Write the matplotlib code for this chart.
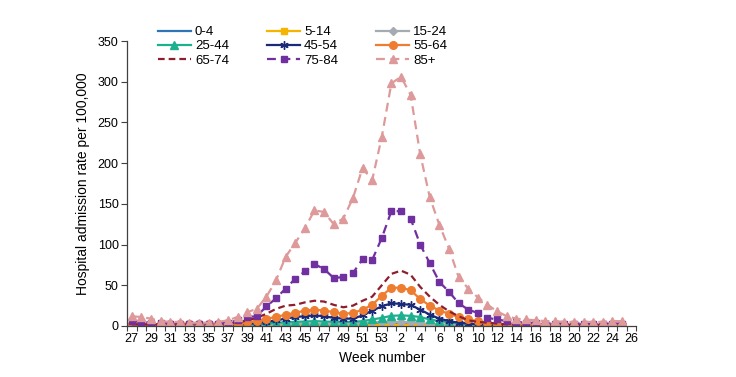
import numpy as np
import matplotlib
matplotlib.use("Agg")
import matplotlib.pyplot as plt

plt.rcParams['font.family'] = ['Liberation Sans', 'DejaVu Sans']

weeks = [str(w) for w in range(27, 54)] + [str(w) for w in range(1, 27)]

age_groups = ['0-4', '5-14', '15-24', '25-44', '45-54', '55-64', '65-74', '75-84', '85+']

rate_0_4 = [1, 1, 1, 1, 1, 1, 1, 1, 1, 1, 1, 1, 1, 1, 1, 1.5, 1.5, 2, 2, 2, 2, 2, 2, 2,
            2, 2, 2.5, 3, 3, 3, 2.5, 2, 1.5, 1.5, 1, 1, 1, 1, 1, 1, 1, 1, 1, 1, 1, 1, 1,
            1, 1, 1, 1, 1]
rate_5_14 = [0.5, 0.5, 0.5, 0.5, 0.5, 0.5, 0.5, 0.5, 0.5, 0.5, 0.5, 0.5, 0.5, 0.5, 0.5,
             0.5, 0.5, 1, 1, 1, 1, 1, 1, 1, 1, 1, 1.5, 1.5, 1.5, 1.5, 1, 1, 1, 0.5, 0.5,
             0.5, 0.5, 0.5, 0.5, 0.5, 0.5, 0.5, 0.5, 0.5, 0.5, 0.5, 0.5, 0.5, 0.5, 0.5,
             0.5, 0.5]
rate_15_24 = [1, 1, 1, 1, 1, 1, 1, 1, 1, 1, 1, 1, 1, 1.5, 2, 2, 2.5, 3, 3, 3, 2.5, 2.5,
              2.5, 3, 3.5, 4.5, 5, 5, 5, 4.5, 3.5, 2.5, 2, 1.5, 1, 1, 1, 1, 1, 1, 1, 1, 1,
              1, 1, 1, 1, 1, 1, 1, 1, 1]
rate_25_44 = [1, 1, 1, 1, 1, 1, 1, 1, 1, 1, 1, 1.5, 2, 2.5, 3, 4, 4.5, 5, 5.5, 6, 5.5, 5,
              5, 5, 6, 8, 10, 12.5, 13, 12.5, 11, 8, 6, 4.5, 3.5, 2.5, 2, 1.5, 1, 1, 1, 1,
              1, 1, 1, 1, 1, 1, 1, 1, 1, 1]
rate_45_54 = [1.5, 1.5, 1.5, 1.5, 1.5, 1.5, 1.5, 1.5, 1.5, 1.5, 1.5, 2, 2.5, 3.5, 5, 7,
              9, 11, 12, 13, 12, 10, 9, 9, 13, 19, 24, 28, 27, 26, 20, 14, 9, 6, 4, 3, 2,
              1.5, 1.5, 1.5, 1, 1, 1, 1, 1, 1, 1, 1, 1, 1, 1, 1]
rate_55_64 = [2, 2, 2, 2, 2, 2, 2, 2, 2, 2, 2, 3, 5, 6, 9, 11, 14, 16, 19, 20, 19, 17, 15,
              16, 20, 26, 37, 47, 47, 44, 33, 25, 19, 15, 11, 8, 6, 4, 3, 2, 2, 2, 1.5,
              1.5, 1.5, 1.5, 1.5, 1.5, 1.5, 1.5, 1.5, 1.5]
rate_65_74 = [2, 2, 2, 2, 2, 2, 2, 2, 2, 2.5, 3, 4, 7, 10, 15, 21, 25, 26, 29, 31, 30, 26,
              23, 25, 31, 36, 50, 64, 68, 63, 48, 36, 26, 18, 12, 7, 5, 4, 3, 2, 2, 2, 2,
              1.5, 1.5, 1.5, 1.5, 1.5, 1.5, 1.5, 1.5, 1.5]
rate_75_84 = [6, 5, 4, 4, 3, 3, 3, 3, 3, 3, 4, 7, 11, 12, 24, 34, 46, 58, 67, 76, 70, 59,
              60, 65, 82, 81, 108, 141, 141, 132, 100, 77, 54, 42, 28, 20, 16, 10, 8, 6, 5,
              4, 4, 3, 3, 3, 3, 3, 3, 3, 3, 3]
rate_85_plus = [12, 11, 9, 6, 5, 5, 4, 4, 4, 5, 7, 11, 17, 21, 36, 56, 85, 102, 120, 142,
                140, 125, 132, 157, 194, 179, 232, 298, 306, 284, 211, 158, 124, 95, 60,
                46, 35, 26, 18, 12, 9, 8, 7, 6, 6, 5, 5, 5, 5, 5, 6, 6]

series = [rate_0_4, rate_5_14, rate_15_24, rate_25_44, rate_45_54, rate_55_64,
          rate_65_74, rate_75_84, rate_85_plus]

colors = ['#2E75B6', '#F4B400', '#A5ABB3', '#1DB08F', '#1B2A78', '#EE7D31',
          '#8E1E2E', '#7030A0', '#DE9A9A']
markers = [None, 's', 'D', '^', (6, 2, 0), 'o', None, 's', '^']
msizes = [0, 5, 4, 5.5, 6, 5.5, 0, 5, 6]
dashes = [None, None, None, None, None, None, (3, 1.8), (4, 2.5), (4, 2.5)]

fig = plt.figure(figsize=(7.36, 3.77), dpi=100)
ax = fig.add_axes([127 / 736, 1 - 326 / 377, (636.5 - 127) / 736, (326 - 41) / 377])

handles = []
for vals, lab, c, m, ms, d in zip(series, age_groups, colors, markers, msizes, dashes):
    x = np.arange(len(vals))
    kw = dict(color=c, lw=1.6, label=lab)
    if m is not None:
        kw.update(marker=m, markersize=ms, markerfacecolor=c, markeredgecolor=c,
                  markeredgewidth=1.0)
    line, = ax.plot(x, vals, **kw)
    if d is not None:
        line.set_dashes(d)
    handles.append(line)

ax.set_xlim(-0.5, len(weeks) - 0.5)
ax.set_ylim(0, 350)
ax.set_yticks(np.arange(0, 351, 50))
ax.tick_params(axis='y', labelsize=9, length=4, width=0.8, pad=2, color='#404040')

ax.set_xticks(np.arange(-0.5, len(weeks), 1))
ax.set_xticklabels([])
ax.tick_params(axis='x', which='major', length=3.5, width=0.8, color='#404040')
ax.set_xticks(np.arange(0, len(weeks), 2), minor=True)
ax.set_xticklabels(weeks[::2], minor=True)
ax.tick_params(axis='x', which='minor', length=0, labelsize=9, pad=5)

for s in ['top', 'right']:
    ax.spines[s].set_visible(False)
for s in ['left', 'bottom']:
    ax.spines[s].set_color('#404040')
    ax.spines[s].set_linewidth(0.9)

fig.text(83 / 736, 1 - 183.5 / 377, 'Hospital admission rate per 100,000', rotation=90,
         ha='center', va='center', fontsize=10)
fig.text(381.75 / 736, 1 - 358 / 377, 'Week number', ha='center', va='center', fontsize=10)

order = [0, 3, 6, 1, 4, 7, 2, 5, 8]
leg = fig.legend([handles[i] for i in order], [age_groups[i] for i in order],
                 loc='upper left', bbox_to_anchor=(158 / 736, 1 - 26 / 377), ncol=3,
                 frameon=False, fontsize=9.5, handlelength=2.5, handletextpad=0.3,
                 columnspacing=2.9, labelspacing=0.15, borderpad=0, borderaxespad=0)

fig.savefig('out.png', dpi=100, facecolor='white')
